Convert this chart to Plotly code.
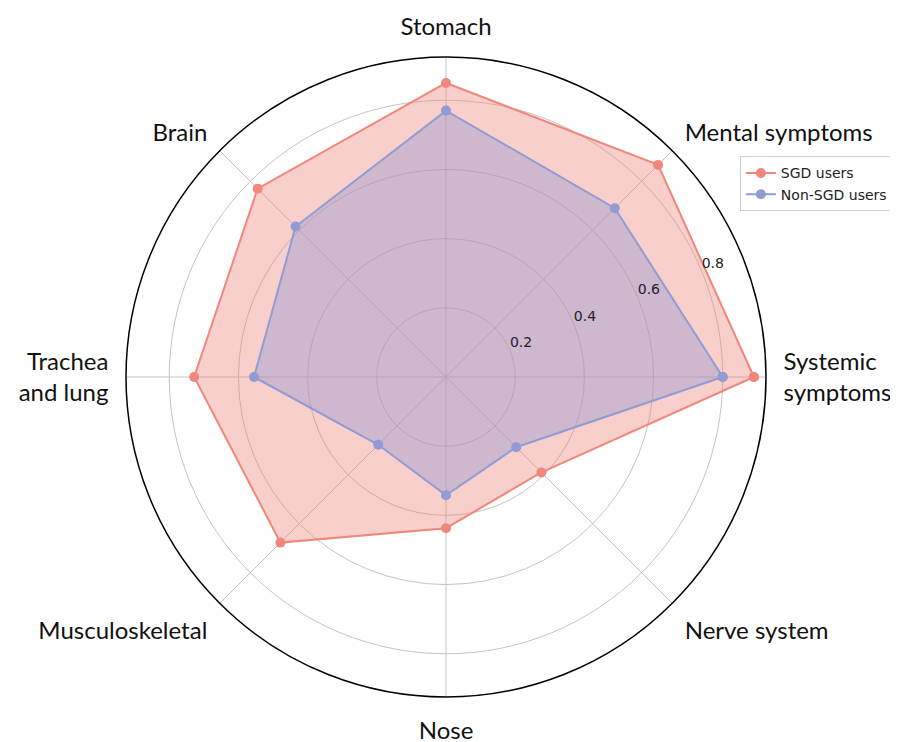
import plotly.graph_objects as go

# Categories, counterclockwise starting at east
categories = ['Systemic<br>symptoms', 'Mental symptoms', 'Stomach', 'Brain',
              'Trachea<br>and lung', 'Musculoskeletal', 'Nose', 'Nerve system']

sgd_users = [0.89, 0.867, 0.85, 0.77, 0.728, 0.677, 0.437, 0.39]
non_sgd_users = [0.80, 0.69, 0.77, 0.615, 0.555, 0.277, 0.342, 0.287]

radial_ticks = [0.2, 0.4, 0.6, 0.8]
radial_labels = ['0.2', '0.4', '0.6', '0.8']
label_angle = 22.5  # degrees, where matplotlib puts the r labels

sgd_color = 'rgb(240,135,125)'
non_color = 'rgb(145,155,212)'

# close polygons
theta_c = categories + categories[:1]
sgd_c = sgd_users + sgd_users[:1]
non_c = non_sgd_users + non_sgd_users[:1]

fig = go.Figure()

# fills (no legend)
fig.add_trace(go.Scatterpolar(r=sgd_c, theta=theta_c, fill='toself', mode='none',
                              fillcolor='rgba(240,135,125,0.4)', showlegend=False,
                              hoverinfo='skip'))
fig.add_trace(go.Scatterpolar(r=non_c, theta=theta_c, fill='toself', mode='none',
                              fillcolor='rgba(140,150,210,0.4)', showlegend=False,
                              hoverinfo='skip'))

# lines with markers
fig.add_trace(go.Scatterpolar(r=sgd_c, theta=theta_c, mode='lines+markers', name='SGD users',
                              line=dict(color=sgd_color, width=2),
                              marker=dict(color=sgd_color, size=10)))
fig.add_trace(go.Scatterpolar(r=non_c, theta=theta_c, mode='lines+markers', name='Non-SGD users',
                              line=dict(color=non_color, width=2),
                              marker=dict(color=non_color, size=10)))

# radial tick labels on an invisible overlay polar (numeric angles)
fig.add_trace(go.Scatterpolar(r=radial_ticks, theta=[label_angle] * len(radial_ticks),
                              text=radial_labels, mode='text', textposition='top right',
                              textfont=dict(size=14, family='DejaVu Sans', color='#222'),
                              showlegend=False, hoverinfo='skip', subplot='polar2'))

dom = dict(x=[118/898, 758/898], y=[1-689/742, 1-49/742])

fig.update_layout(
    width=898, height=742,
    margin=dict(l=0, r=0, t=0, b=0),
    paper_bgcolor='white',
    font=dict(family='DejaVu Sans', color='#222222'),
    polar=dict(
        domain=dom,
        bgcolor='white',
        radialaxis=dict(range=[0, 0.925], tickvals=radial_ticks, showticklabels=False,
                        showline=False, ticks='', gridcolor='#c4c4c4', gridwidth=1),
        angularaxis=dict(direction='counterclockwise', rotation=0,
                         linecolor='black', linewidth=1.5, gridcolor='#c4c4c4',
                         ticks='outside', ticklen=12, tickcolor='rgba(0,0,0,0)',
                         tickfont=dict(size=24, family='Lato', color='#111')),
    ),
    polar2=dict(
        domain=dom,
        bgcolor='rgba(0,0,0,0)',
        radialaxis=dict(range=[0, 0.925], visible=False),
        angularaxis=dict(direction='counterclockwise', rotation=0, visible=False),
    ),
    legend=dict(x=0.815, y=0.80, xanchor='left', yanchor='top',
                bgcolor='white', bordercolor='#d0d0d0', borderwidth=1,
                font=dict(size=14, family='DejaVu Sans', color='#222'),
                tracegroupgap=0, itemwidth=30),
)

fig.write_html("out.html")
